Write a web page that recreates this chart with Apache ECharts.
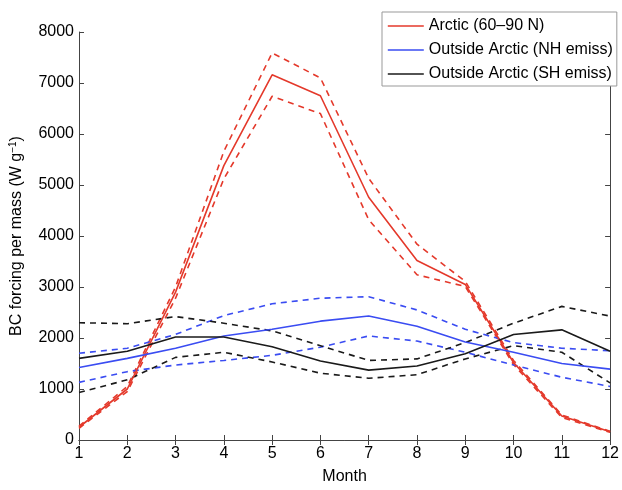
<!DOCTYPE html>
<html>
<head>
<meta charset="utf-8">
<script src="https://cdn.jsdelivr.net/npm/echarts@6/dist/echarts.min.js"></script>
<style>html,body{margin:0;padding:0;background:#fff;}#c{width:622px;height:490px;}</style>
</head>
<body>
<div id="c"></div>
<script>
var months = [1,2,3,4,5,6,7,8,9,10,11,12];
var arctic      = [250, 1000, 2900, 5380, 7160, 6750, 4760, 3520, 3050, 1520, 470, 160];
var arcticHigh  = [270, 1050, 3000, 5660, 7590, 7100, 5130, 3840, 3110, 1560, 490, 170];
var arcticLow   = [230, 950, 2780, 5120, 6740, 6400, 4320, 3240, 3010, 1480, 440, 150];
var nh          = [1420, 1600, 1800, 2040, 2170, 2330, 2430, 2230, 1920, 1720, 1500, 1390];
var nhHigh      = [1700, 1800, 2070, 2440, 2670, 2780, 2810, 2550, 2170, 1910, 1800, 1750];
var nhLow       = [1130, 1340, 1470, 1560, 1660, 1820, 2040, 1940, 1720, 1470, 1230, 1050];
var sh          = [1600, 1740, 2020, 2020, 1830, 1550, 1370, 1450, 1690, 2070, 2160, 1740];
var shHigh      = [2300, 2280, 2420, 2290, 2140, 1850, 1560, 1590, 1910, 2290, 2620, 2430];
var shLow       = [930, 1180, 1620, 1720, 1530, 1310, 1210, 1280, 1590, 1850, 1720, 1120];
var yTicks = [0,1000,2000,3000,4000,5000,6000,7000,8000];

var RED = '#e4392b', BLUE = '#3a4cf2', BLACK = '#1a1a1a';
function pts(arr){ return months.map(function(m,i){ return [m, arr[i]]; }); }
function ser(name, arr, color, dashed){
  return {
    name: name, type: 'line', data: pts(arr), symbol: 'none', silent: true,
    lineStyle: {color: color, width: 1.6, type: dashed ? [6,5] : 'solid'},
    itemStyle: {color: color}, z: dashed ? 2 : 3
  };
}
var FONT = 'Liberation Sans, Arial, sans-serif';
var chart = echarts.init(document.getElementById('c'), null, {renderer: 'canvas'});
chart.setOption({
  animation: false,
  backgroundColor: '#fff',
  textStyle: {fontFamily: FONT},
  grid: {left: 77, right: 10, top: 32, bottom: 38, containLabel: false},
  legend: {
    orient: 'vertical', left: 382, top: 12,
    data: ['Arctic (60\u201390 N)', 'Outside Arctic (NH emiss)', 'Outside Arctic (SH emiss)'],
    backgroundColor: '#fff', borderColor: '#999', borderWidth: 1,
    padding: [6, 4, 4, 5], itemGap: 8, itemWidth: 36, itemHeight: 14,
    textStyle: {fontSize: 16, color: '#000', fontFamily: FONT},
    itemStyle: {opacity: 0},
    lineStyle: {width: 1.6},
    z: 10
  },
  xAxis: [{
    type: 'value', min: 1, max: 12, interval: 1,
    name: 'Month', nameLocation: 'middle', nameGap: 29,
    nameTextStyle: {fontSize: 16, color: '#000'},
    axisLine: {show: true, lineStyle: {color: '#444', width: 1}},
    axisTick: {show: true, inside: true, length: 5, lineStyle: {color: '#444'}},
    axisLabel: {fontSize: 16, color: '#000', margin: 6, formatter: function(v){ return String(v); }},
    splitLine: {show: false}
  },{
    type: 'value', min: 1, max: 12, interval: 1, position: 'top',
    axisLine: {show: true, lineStyle: {color: '#444', width: 1}},
    axisTick: {show: true, inside: true, length: 5, lineStyle: {color: '#444'}},
    axisLabel: {show: false}, splitLine: {show: false}
  }],
  yAxis: [{
    type: 'value', min: 0, max: 8000, interval: 1000,
    name: '{a|BC forcing per mass (W g}{s|\u22121}{a|)}', nameLocation: 'middle', nameGap: 53,
    nameTextStyle: {rich: {
      a: {fontSize: 16, color: '#000', fontFamily: FONT},
      s: {fontSize: 10, color: '#000', fontFamily: FONT, verticalAlign: 'top', padding: [0,0,8,0]}
    }},
    axisLine: {show: true, lineStyle: {color: '#444', width: 1}},
    axisTick: {show: true, inside: true, length: 5, lineStyle: {color: '#444'}},
    axisLabel: {fontSize: 16, color: '#000', margin: 5, formatter: function(v){ return String(v); }},
    splitLine: {show: false}
  },{
    type: 'value', min: 0, max: 8000, interval: 1000, position: 'right',
    axisLine: {show: true, lineStyle: {color: '#444', width: 1}},
    axisTick: {show: true, inside: true, length: 5, lineStyle: {color: '#444'}},
    axisLabel: {show: false}, splitLine: {show: false}
  }],
  series: [
    ser('Arctic (60\u201390 N)', arctic, RED, false),
    ser('Outside Arctic (NH emiss)', nh, BLUE, false),
    ser('Outside Arctic (SH emiss)', sh, BLACK, false),
    ser('arcticHigh', arcticHigh, RED, true),
    ser('arcticLow', arcticLow, RED, true),
    ser('nhHigh', nhHigh, BLUE, true),
    ser('nhLow', nhLow, BLUE, true),
    ser('shHigh', shHigh, BLACK, true),
    ser('shLow', shLow, BLACK, true)
  ]
});
</script>
</body>
</html>
